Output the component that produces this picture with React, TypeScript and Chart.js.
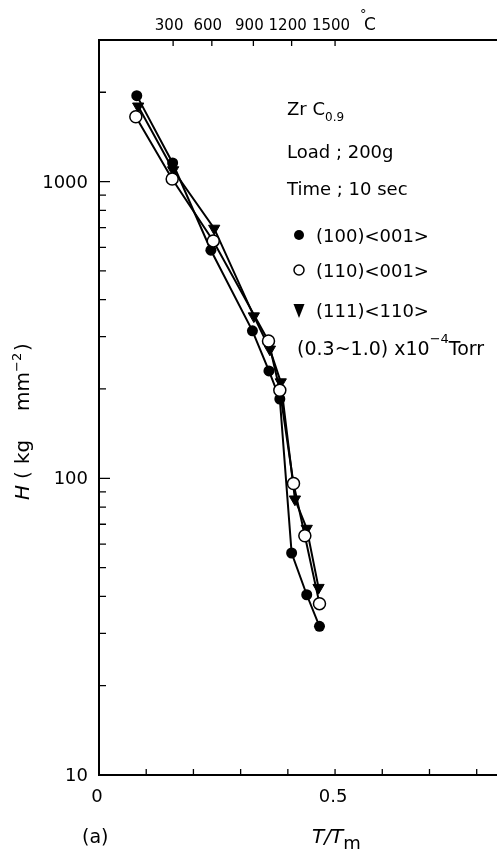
import React, { useEffect, useRef } from "react";
import { Chart, registerables } from "chart.js";

Chart.register(...registerables);

// ---- data ----
const filled100X = [0.08, 0.156, 0.237, 0.325, 0.36, 0.383, 0.408, 0.44, 0.467];
const filled100Y = [1948, 1155, 587, 314, 230, 185, 56, 40.5, 31.7];
const open110X = [0.078, 0.155, 0.242, 0.359, 0.383, 0.412, 0.436, 0.467];
const open110Y = [1654, 1020, 631, 290, 198, 96, 64, 37.8];
const tri111X = [0.083, 0.157, 0.244, 0.328, 0.362, 0.385, 0.415, 0.44, 0.465];
const tri111Y = [1794, 1094, 695, 352, 272, 211, 85, 67.7, 42.8];

const seriesNames = ["(100)<001>", "(110)<001>", "(111)<110>"];

// ---- axes ----
const xMin = 0;
const xMax = 0.843;
const yMin = 10;
const yMax = 3000;
const xTickValues = [0, 0.1, 0.2, 0.3, 0.4, 0.5, 0.6, 0.7, 0.8];
const xLabelValues = [0, 0.5];
const xLabelTexts = ["0", "0.5"];
const yMajorValues = [10, 100, 1000];
const yLabelTexts = ["10", "100", "1000"];
const yMinorValues = [20, 30, 40, 50, 60, 70, 80, 90, 200, 300, 400, 500, 600, 700, 800, 900, 2000];
const topTickValues = [0.157, 0.239, 0.327, 0.408, 0.5];
const topLabelTexts = ["300", "600", "900", "1200", "1500"];

const W = 497;
const H = 851;
const PLOT_LEFT = 99;
const PLOT_TOP = 40;
const PLOT_BOTTOM = 775;

const FONT = '"DejaVu Sans", "Liberation Sans", sans-serif';
const WEIGHT = "normal";

function toPts(xs: number[], ys: number[]) {
  return xs.map((x, i) => ({ x, y: ys[i] }));
}

type Piece = { t: string; size: number; dy?: number; italic?: boolean };

function drawPieces(ctx: CanvasRenderingContext2D, x: number, y: number, pieces: Piece[]) {
  let cx = x;
  for (const p of pieces) {
    ctx.font = `${p.italic ? "italic " : ""}${WEIGHT} ${p.size}px ${FONT}`;
    ctx.fillText(p.t, cx, y + (p.dy || 0));
    cx += ctx.measureText(p.t).width;
  }
}

function marker(ctx: CanvasRenderingContext2D, kind: string, x: number, y: number) {
  ctx.save();
  ctx.lineWidth = 1.5;
  ctx.strokeStyle = "#000";
  ctx.fillStyle = "#000";
  if (kind === "filled") {
    ctx.beginPath();
    ctx.arc(x, y, 5, 0, Math.PI * 2);
    ctx.fill();
  } else if (kind === "open") {
    ctx.beginPath();
    ctx.arc(x, y, 5, 0, Math.PI * 2);
    ctx.fillStyle = "#fff";
    ctx.fill();
    ctx.stroke();
  } else {
    ctx.beginPath();
    ctx.moveTo(x - 5.5, y - 6);
    ctx.lineTo(x + 5.5, y - 6);
    ctx.lineTo(x, y + 8);
    ctx.closePath();
    ctx.fill();
  }
  ctx.restore();
}

const decor = {
  id: "decor",
  beforeDatasetsDraw(chart: any) {
    const ctx: CanvasRenderingContext2D = chart.ctx;
    const xs = chart.scales.x;
    const ys = chart.scales.y;
    const { left, right, top, bottom } = chart.chartArea;
    ctx.save();
    ctx.strokeStyle = "#000";
    ctx.lineWidth = 2;
    ctx.beginPath();
    ctx.moveTo(left, top);
    ctx.lineTo(left, bottom);
    ctx.moveTo(left - 1, bottom);
    ctx.lineTo(right, bottom);
    ctx.moveTo(left - 1, top);
    ctx.lineTo(right, top);
    ctx.stroke();

    ctx.lineWidth = 1.3;
    ctx.beginPath();
    for (const v of xTickValues) {
      const px = xs.getPixelForValue(v);
      ctx.moveTo(px, bottom);
      ctx.lineTo(px, bottom - 6);
    }
    for (const v of topTickValues) {
      const px = xs.getPixelForValue(v);
      ctx.moveTo(px, top);
      ctx.lineTo(px, top + 6);
    }
    for (const v of yMajorValues) {
      const py = ys.getPixelForValue(v);
      ctx.moveTo(left, py);
      ctx.lineTo(left + 11, py);
    }
    for (const v of yMinorValues) {
      const py = ys.getPixelForValue(v);
      ctx.moveTo(left, py);
      ctx.lineTo(left + 7, py);
    }
    ctx.stroke();
    ctx.restore();
  },
  afterDraw(chart: any) {
    const ctx: CanvasRenderingContext2D = chart.ctx;
    const xs = chart.scales.x;
    const ys = chart.scales.y;
    ctx.save();
    ctx.fillStyle = "#000";
    ctx.textBaseline = "alphabetic";

    // y tick labels
    ctx.textAlign = "right";
    ctx.font = `${WEIGHT} 18px ${FONT}`;
    yMajorValues.forEach((v, i) => {
      const py = ys.getPixelForValue(v);
      ctx.fillText(yLabelTexts[i], 88, py + 6);
    });

    // x tick labels
    ctx.textAlign = "center";
    xLabelValues.forEach((v, i) => {
      const px = xs.getPixelForValue(v);
      ctx.fillText(xLabelTexts[i], px - 2, 802);
    });

    // top labels
    ctx.font = `${WEIGHT} 15px ${FONT}`;
    topTickValues.forEach((v, i) => {
      const px = xs.getPixelForValue(v);
      ctx.fillText(topLabelTexts[i], px - 4, 30);
    });
    ctx.textAlign = "left";
    ctx.font = `${WEIGHT} 17px ${FONT}`;
    ctx.fillText("C", 364, 30);
    ctx.font = `${WEIGHT} 13px ${FONT}`;
    ctx.fillText("°", 360, 18);

    // x axis title
    drawPieces(ctx, 312, 843, [
      { t: "T/T", size: 20, italic: true },
      { t: "m", size: 18, dy: 6 },
    ]);
    // (a)
    drawPieces(ctx, 82, 843, [{ t: "(a)", size: 19 }]);

    // y axis title (rotated)
    ctx.save();
    ctx.translate(29, 0);
    ctx.rotate(-Math.PI / 2);
    const yParts: [string, number, number, boolean][] = [
      ["H", 500, 0, true],
      ["(", 479, 0, false],
      ["kg", 464, 0, false],
      ["mm", 411, 0, false],
      ["−2", 372, -8, false],
      [")", 351, 0, false],
    ];
    for (const [t, sy, dy, it] of yParts) {
      const sz = t === "−2" ? 13 : 20;
      ctx.font = `${it ? "italic " : ""}${WEIGHT} ${sz}px ${FONT}`;
      ctx.fillText(t, -sy, dy);
    }
    ctx.restore();

    // annotation block
    drawPieces(ctx, 287, 115, [
      { t: "Zr ", size: 18 },
      { t: "C", size: 18 },
      { t: "0.9", size: 12, dy: 6 },
    ]);
    drawPieces(ctx, 287, 158, [{ t: "Load ; 200g", size: 18 }]);
    drawPieces(ctx, 287, 195, [{ t: "Time ; 10 sec", size: 18 }]);

    const legendY = [235, 270, 310];
    const kinds = ["filled", "open", "tri"];
    kinds.forEach((k, i) => {
      marker(ctx, k, 299, legendY[i]);
      drawPieces(ctx, 316, legendY[i] + 7, [{ t: seriesNames[i], size: 18 }]);
    });

    // pressure note
    drawPieces(ctx, 297, 355, [
      { t: "(0.3~1.0) x10", size: 19 },
      { t: "−4", size: 13, dy: -12 },
      { t: "Torr", size: 19 },
    ]);

    ctx.restore();
  },
};

export default function App() {
  const ref = useRef<HTMLCanvasElement>(null);
  useEffect(() => {
    const canvas = ref.current;
    if (!canvas) return;
    const chart = new Chart(canvas, {
      type: "scatter",
      data: {
        datasets: [
          {
            label: seriesNames[1],
            data: toPts(open110X, open110Y),
            showLine: true,
            borderColor: "#000",
            borderWidth: 2,
            pointStyle: "circle",
            pointRadius: 6,
            pointBorderWidth: 1.5,
            pointBackgroundColor: "#fff",
            pointBorderColor: "#000",
            order: 0,
          },
          {
            label: seriesNames[2],
            data: toPts(tri111X, tri111Y),
            showLine: true,
            borderColor: "#000",
            borderWidth: 2,
            pointStyle: "triangle",
            pointRotation: 180,
            pointRadius: 6.5,
            pointBorderWidth: 1,
            pointBackgroundColor: "#000",
            pointBorderColor: "#000",
            order: 1,
          },
          {
            label: seriesNames[0],
            data: toPts(filled100X, filled100Y),
            showLine: true,
            borderColor: "#000",
            borderWidth: 2,
            pointStyle: "circle",
            pointRadius: 5.5,
            pointBorderWidth: 0,
            pointBackgroundColor: "#000",
            pointBorderColor: "#000",
            order: 2,
          },
        ],
      } as any,
      options: {
        responsive: false,
        animation: false,
        layout: {
          autoPadding: false,
          padding: { left: PLOT_LEFT, top: PLOT_TOP, right: 0, bottom: H - PLOT_BOTTOM },
        },
        scales: {
          x: { type: "linear", min: xMin, max: xMax, display: false },
          y: { type: "logarithmic", min: yMin, max: yMax, display: false },
        },
        plugins: {
          legend: { display: false },
          tooltip: { enabled: false },
        },
      } as any,
      plugins: [decor],
    });
    return () => chart.destroy();
  }, []);
  return (
    <div style={{ position: "fixed", left: 0, top: 0, width: W, height: H, background: "#fff" }}>
      <canvas ref={ref} width={W} height={H} style={{ width: W, height: H, display: "block" }} />
    </div>
  );
}
